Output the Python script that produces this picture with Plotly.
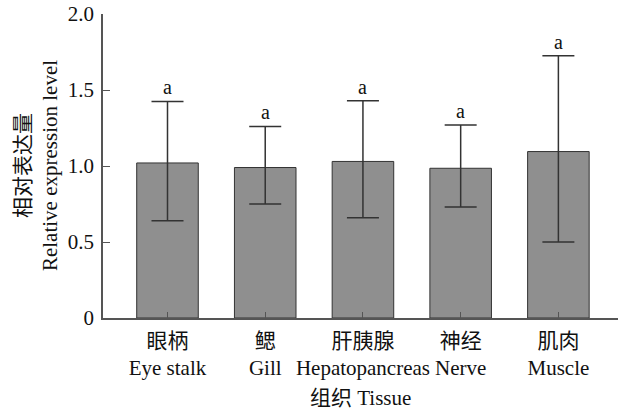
import plotly.graph_objects as go

categories = ["眼柄<br>Eye stalk", "鳃<br>Gill", "肝胰腺<br>Hepatopancreas", "神经<br>Nerve", "肌肉<br>Muscle"]
values = [1.02, 0.99, 1.03, 0.985, 1.095]
err_plus = [0.405, 0.27, 0.40, 0.285, 0.63]
err_minus = [0.38, 0.24, 0.37, 0.255, 0.595]
letters = ["a", "a", "a", "a", "a"]
ytick_vals = [0, 0.5, 1.0, 1.5, 2.0]
ytick_text = ["0", "0.5", "1.0", "1.5", "2.0"]
x_title = "组织 Tissue"
y_title = "相对表达量<br>Relative expression level"

font_fam = "Liberation Serif, Times New Roman, Noto Sans CJK SC, serif"

fig = go.Figure()
fig.add_trace(go.Bar(
    x=list(range(len(categories))), y=values, width=0.63,
    marker=dict(color="#8f8f8f", line=dict(color="#333333", width=1)),
    error_y=dict(type="data", symmetric=False, array=err_plus, arrayminus=err_minus,
                 color="#333333", thickness=1.5, width=16),
))

for i, (v, p, t) in enumerate(zip(values, err_plus, letters)):
    fig.add_annotation(x=i, y=v + p, text=t, showarrow=False, yanchor="bottom", yshift=1,
                       font=dict(family=font_fam, size=20, color="#111111"))

fig.add_annotation(xref="paper", yref="paper", x=0.5, y=-0.263, text=x_title, showarrow=False,
                   xanchor="center", yanchor="middle", font=dict(family=font_fam, size=21, color="#111111"))
fig.add_annotation(xref="paper", yref="paper", x=-0.13, y=0.5, text=y_title, showarrow=False,
                   textangle=-90, xanchor="center", yanchor="middle",
                   font=dict(family=font_fam, size=21, color="#111111"))

fig.update_layout(
    width=624, height=412,
    margin=dict(l=103, r=6, t=14, b=94),
    plot_bgcolor="white", paper_bgcolor="white",
    showlegend=False,
    font=dict(family=font_fam, size=21, color="#111111"),
)
fig.update_xaxes(
    range=[-0.66, 4.61], tickmode="array", tickvals=list(range(len(categories))), ticktext=categories,
    showline=True, linecolor="#555555", linewidth=1.5, ticks="inside", ticklen=6,
    tickcolor="#555555", showgrid=False, zeroline=False, automargin=False,
    tickfont=dict(size=21), ticklabelstandoff=3,
)
fig.update_yaxes(
    range=[0, 2.0], tickmode="array", tickvals=ytick_vals, ticktext=ytick_text,
    showline=True, linecolor="#555555", linewidth=1.5, ticks="inside", ticklen=7,
    tickcolor="#555555", showgrid=False, zeroline=False, automargin=False,
    tickfont=dict(size=21, color="#111111"), ticklabelstandoff=3,
)

# remove the browser's default 8px body margin so the figure fills the window exactly
fig.write_html("out.html", config={"displayModeBar": False},
               post_script="document.body.style.margin='0';")
